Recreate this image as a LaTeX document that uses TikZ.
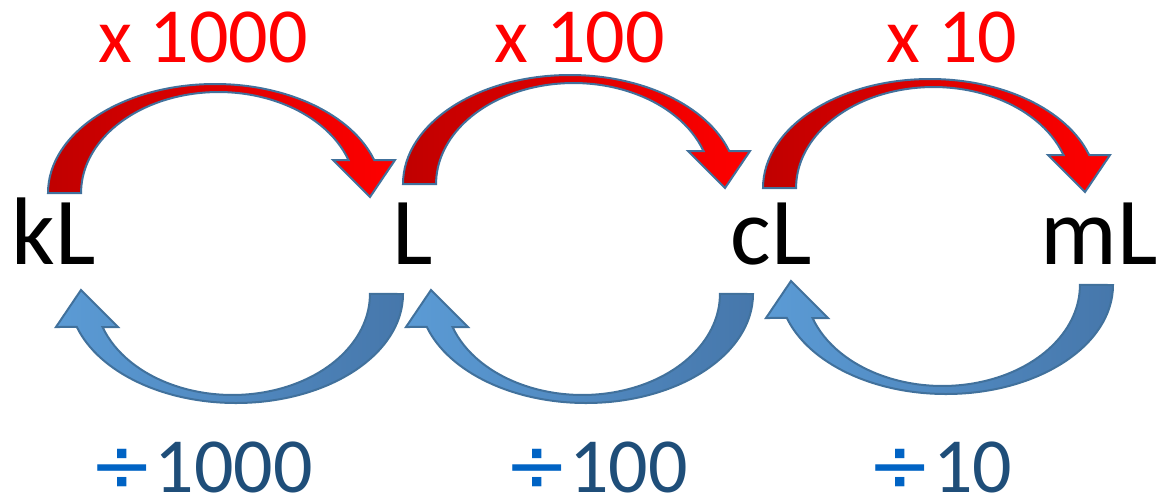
\documentclass[tikz,border=0pt]{standalone}
\usepackage{fontspec}
\setmainfont{Carlito}
\newfontfamily\dejavu{DejaVu Sans}
\definecolor{edgeblue}{HTML}{41719C}
\definecolor{darkred}{HTML}{C00000}
\definecolor{tailblue}{HTML}{4677AB}
\definecolor{headblue}{HTML}{5B9BD5}
\definecolor{numblue}{HTML}{1F4E79}
\definecolor{divblue}{HTML}{0063C4}

\begin{document}
\begin{tikzpicture}[x=1pt, y=-1pt,
                unit/.style={inner sep=0pt, anchor=base, font=\fontsize{96}{100}\selectfont},
                factor/.style={inner sep=0pt, anchor=base, font=\fontsize{78}{80}\selectfont},
                mulfill/.style={draw=edgeblue, line width=2pt, left color=darkred, right color=red},
                divfill/.style={draw=edgeblue, line width=2pt, left color=headblue, right color=tailblue},
                convarrow/.pic={
                  \path[#1] (-16,0) arc[start angle=180, end angle=342.4, x radius=167, y radius=109]
                  -- (331,-33) -- (306,4) -- (269,-33) -- (284.5,-33)
                  arc[start angle=340.9, end angle=180, x radius=137.5, y radius=101] -- cycle;
                }
                ]
                \useasboundingbox (0,0) rectangle (1156,499);
                \pic at (64,193) {convarrow=mulfill};
                \pic at (419,184) {convarrow=mulfill};
                \pic at (779,188) {convarrow=mulfill};
                \pic[rotate=180] at (387,294) {convarrow=divfill};
                \pic[rotate=180] at (737,294) {convarrow=divfill};
                \pic[rotate=180] at (1097,285) {convarrow=divfill};
                \node[unit] (kL) at (54,264) {kL};
                \node[unit] (L) at (413,264) {L};
                \node[unit] (cL) at (771,264) {cL};
                \node[unit] (mL) at (1099,264) {mL};
                \node[factor, text=red] (x1000) at (203,62) {x 1000};
                \node[factor, text=red] (x100) at (580,62) {x 100};
                \node[factor, text=red] (x10) at (952,62) {x 10};
                \node[factor, text=numblue] (d1000) at (201,492) {{\dejavu\color{divblue}÷}1000};
                \node[factor, text=numblue] (d100) at (596,492) {{\dejavu\color{divblue}÷}100};
                \node[factor, text=numblue] (d10) at (940,492) {{\dejavu\color{divblue}÷}10};
              \end{tikzpicture}
\end{document}
